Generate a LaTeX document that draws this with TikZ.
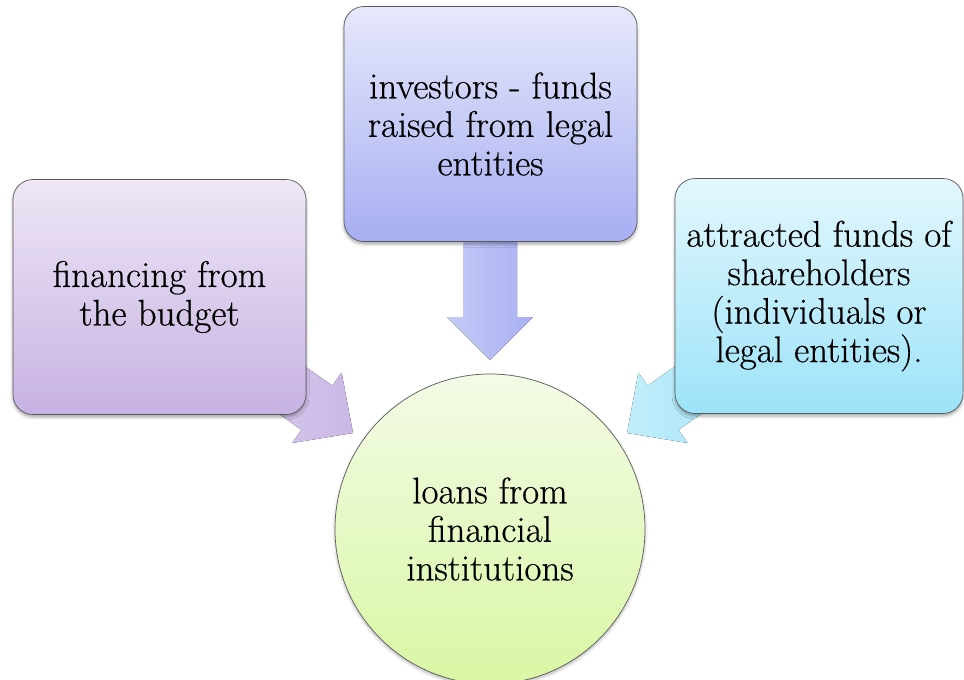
\documentclass[tikz,border=0pt]{standalone}
\usepackage{fontspec}
\newfontfamily\labelface{Latin Modern Roman}[FakeBold=0.5]
\usetikzlibrary{shadows.blur}

\definecolor{boxline}{HTML}{5A5A5A}
\definecolor{budgetTop}{HTML}{EEE6F6}
\definecolor{budgetBot}{HTML}{C6B2E2}
\definecolor{investTop}{HTML}{E6E8FB}
\definecolor{investBot}{HTML}{A7AEF2}
\definecolor{shareTop}{HTML}{E3F7FD}
\definecolor{shareBot}{HTML}{9CE3F9}
\definecolor{loanTop}{HTML}{F3FBE6}
\definecolor{loanBot}{HTML}{D9F7A4}
\definecolor{arrBudgetA}{HTML}{D8CAEC}
\definecolor{arrBudgetB}{HTML}{C9B8E6}
\definecolor{arrInvestA}{HTML}{C6CBF7}
\definecolor{arrInvestB}{HTML}{A8B0F3}
\definecolor{arrShareA}{HTML}{C2EDFA}
\definecolor{arrShareB}{HTML}{A6E6F9}

\begin{document}
\begin{tikzpicture}[x=1pt,y=1pt,
  bigtext/.style={align=center, font=\labelface\fontsize{37}{38.5}\selectfont},
  sourcebox/.style={bigtext, draw=boxline, line width=0.7pt,
    rounded corners=20pt, minimum width=293pt, minimum height=235pt,
    inner sep=0pt,
    blur shadow={shadow xshift=0pt, shadow yshift=-2.5pt,
      shadow blur radius=3pt, shadow opacity=35}},
  target/.style={bigtext, circle, draw=boxline, line width=0.7pt,
    minimum size=310pt, inner sep=0pt,
    blur shadow={shadow xshift=0pt, shadow yshift=-2pt,
      shadow blur radius=3pt, shadow opacity=30}},
  blockarrow/.style={draw=none}
]
\useasboundingbox (0,0) rectangle (964,-680);

% tips of the three block arrows
\coordinate (tipL) at (353,-433);
\coordinate (tipT) at (490,-360);
\coordinate (tipR) at (627,-433);

% block arrows (drawn first, so the boxes cover their tails)
\begin{scope}[shift={(tipL)}, rotate=-35]
  \fill[blockarrow, left color=arrBudgetA, right color=arrBudgetB]
    (0,0) -- (-44,43) -- (-44,27) -- (-110,27) -- (-110,-27)
    -- (-44,-27) -- (-44,-43) -- cycle;
\end{scope}
\begin{scope}[shift={(tipT)}, rotate=-90]
  \fill[blockarrow, left color=arrInvestA, right color=arrInvestB]
    (0,0) -- (-43,43) -- (-43,27) -- (-140,27) -- (-140,-27)
    -- (-43,-27) -- (-43,-43) -- cycle;
\end{scope}
\begin{scope}[shift={(tipR)}, rotate=-145]
  \fill[blockarrow, left color=arrShareA, right color=arrShareB]
    (0,0) -- (-44,43) -- (-44,27) -- (-110,27) -- (-110,-27)
    -- (-44,-27) -- (-44,-43) -- cycle;
\end{scope}

% source boxes
\node[sourcebox, top color=budgetTop, bottom color=budgetBot]
  (budget) at (159.5,-297) {financing from\\the budget};
\node[sourcebox, top color=investTop, bottom color=investBot]
  (invest) at (490.5,-124) {investors - funds\\raised from legal\\entities};
\node[sourcebox, minimum width=288pt, top color=shareTop, bottom color=shareBot]
  (share) at (819,-296) {attracted funds of\\shareholders\\(individuals or\\legal entities).};

% target circle
\node[target, top color=loanTop, bottom color=loanBot]
  (loans) at (490,-529) {loans from\\financial\\institutions};
\end{tikzpicture}
\end{document}
